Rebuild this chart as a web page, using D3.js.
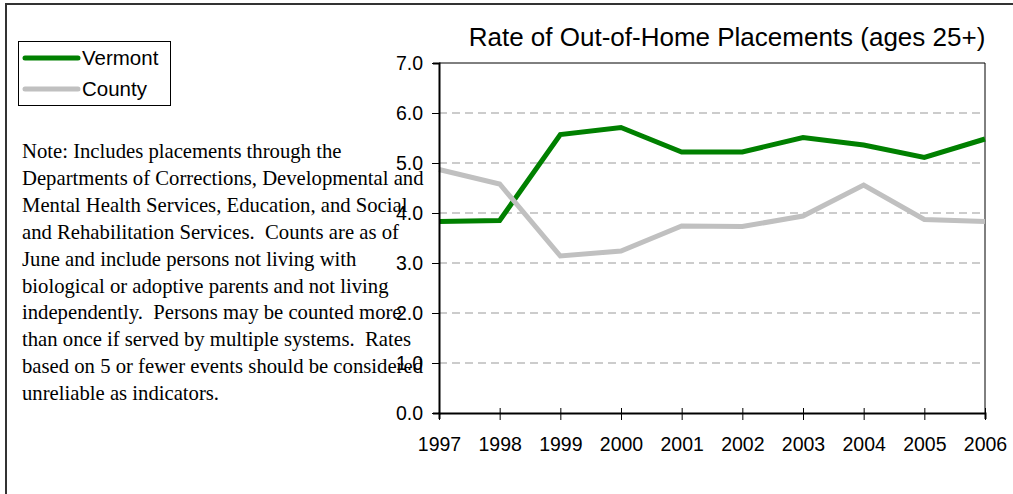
<!DOCTYPE html>
<html>
<head>
<meta charset="utf-8">
<script src="https://cdn.jsdelivr.net/npm/d3@7"></script>
<style>
  html, body { margin: 0; padding: 0; background: #fff; }
  svg { display: block; }
</style>
</head>
<body>
<svg id="chart" width="1013" height="494"></svg>
<script>
// Years on the category axis
const years = ["1997", "1998", "1999", "2000", "2001", "2002", "2003", "2004", "2005", "2006"];
// Rate of out-of-home placements, ages 25+
const vermont = [3.83, 3.85, 5.57, 5.71, 5.22, 5.22, 5.51, 5.36, 5.11, 5.48];
const county  = [4.87, 4.58, 3.14, 3.24, 3.74, 3.73, 3.94, 4.56, 3.87, 3.83];
const yTicks = [0, 1, 2, 3, 4, 5, 6, 7];
const seriesNames = ["Vermont", "County"];
const seriesColors = ["#008000", "#c0c0c0"];
const noteLines = [
  "Note: Includes placements through the",
  "Departments of Corrections, Developmental and",
  "Mental Health Services, Education, and Social",
  "and Rehabilitation Services.  Counts are as of",
  "June and include persons not living with",
  "biological or adoptive parents and not living",
  "independently.  Persons may be counted more",
  "than once if served by multiple systems.  Rates",
  "based on 5 or fewer events should be considered",
  "unreliable as indicators."
];

const svg = d3.select("#chart");
const sans = "Arial, 'Liberation Sans', sans-serif";
const serif = "'Times New Roman', 'Liberation Serif', serif";

// Outer frame (runs off the right and bottom edges)
svg.append("rect")
  .attr("x", 6).attr("y", 4).attr("width", 1020).attr("height", 500)
  .attr("fill", "none").attr("stroke", "#333").attr("stroke-width", 2);

// Note text block (drawn under the axes, as in the original layout)
const note = svg.append("text")
  .attr("font-family", serif).attr("font-size", 20.7).attr("fill", "#000")
  .attr("xml:space", "preserve");
noteLines.forEach((t, i) => {
  note.append("tspan")
    .attr("x", 22).attr("y", 158 + i * 26.9)
    .text(t);
});

const plot = { left: 439, right: 985, top: 63, bottom: 413 };

const x = d3.scalePoint().domain(years).range([plot.left, plot.right]);
const y = d3.scaleLinear().domain([0, 7]).range([plot.bottom, plot.top]);

// Dashed horizontal gridlines
svg.append("g")
  .selectAll("line")
  .data(yTicks.filter(v => v > 0 && v < 7))
  .join("line")
  .attr("x1", plot.left).attr("x2", plot.right)
  .attr("y1", d => y(d)).attr("y2", d => y(d))
  .attr("stroke", "#999").attr("stroke-width", 1)
  .attr("stroke-dasharray", "8,5");

// Plot frame: top and right edges
svg.append("path")
  .attr("d", `M${plot.left},${plot.top}H${plot.right}V${plot.bottom}`)
  .attr("fill", "none").attr("stroke", "#000").attr("stroke-width", 1);

// Series lines
const line = d3.line().x((d, i) => x(years[i])).y(d => y(d));
[vermont, county].forEach((vals, i) => {
  svg.append("path")
    .datum(vals)
    .attr("d", line)
    .attr("fill", "none")
    .attr("stroke", seriesColors[i])
    .attr("stroke-width", 5)
    .attr("stroke-linejoin", "miter");
});

// Y axis
const yAxis = svg.append("g")
  .attr("transform", `translate(${plot.left},0)`)
  .call(d3.axisLeft(y).tickValues(yTicks).tickFormat(d3.format(".1f")).tickSize(6).tickPadding(10));
yAxis.select(".domain").attr("stroke", "#000").attr("stroke-width", 2);
yAxis.selectAll(".tick line").attr("stroke", "#000").attr("x2", -7).attr("x1", 1);
yAxis.selectAll("text").attr("font-family", sans).attr("font-size", 19.5).attr("fill", "#000");

// X axis
const xAxis = svg.append("g")
  .attr("transform", `translate(0,${plot.bottom})`)
  .call(d3.axisBottom(x).tickSize(6).tickPadding(18));
xAxis.select(".domain").attr("stroke", "#000").attr("stroke-width", 2);
xAxis.selectAll(".tick line").attr("stroke", "#000").attr("y1", -5).attr("y2", 7);
xAxis.selectAll("text").attr("font-family", sans).attr("font-size", 19.5).attr("fill", "#000");

// Title
svg.append("text")
  .attr("x", 727).attr("y", 46)
  .attr("text-anchor", "middle")
  .attr("font-family", sans).attr("font-size", 26)
  .text("Rate of Out-of-Home Placements (ages 25+)");

// Legend
const legend = svg.append("g");
legend.append("rect")
  .attr("x", 18.5).attr("y", 41.5).attr("width", 152).attr("height", 64)
  .attr("fill", "#fff").attr("stroke", "#000").attr("stroke-width", 1);
seriesNames.forEach((name, i) => {
  const ly = 58 + i * 31;
  legend.append("line")
    .attr("x1", 25).attr("x2", 78).attr("y1", ly).attr("y2", ly)
    .attr("stroke", seriesColors[i]).attr("stroke-width", 5)
    .attr("stroke-linecap", "round");
  legend.append("text")
    .attr("x", 82).attr("y", ly + 7)
    .attr("font-family", sans).attr("font-size", 20.5)
    .text(name);
});
</script>
</body>
</html>
